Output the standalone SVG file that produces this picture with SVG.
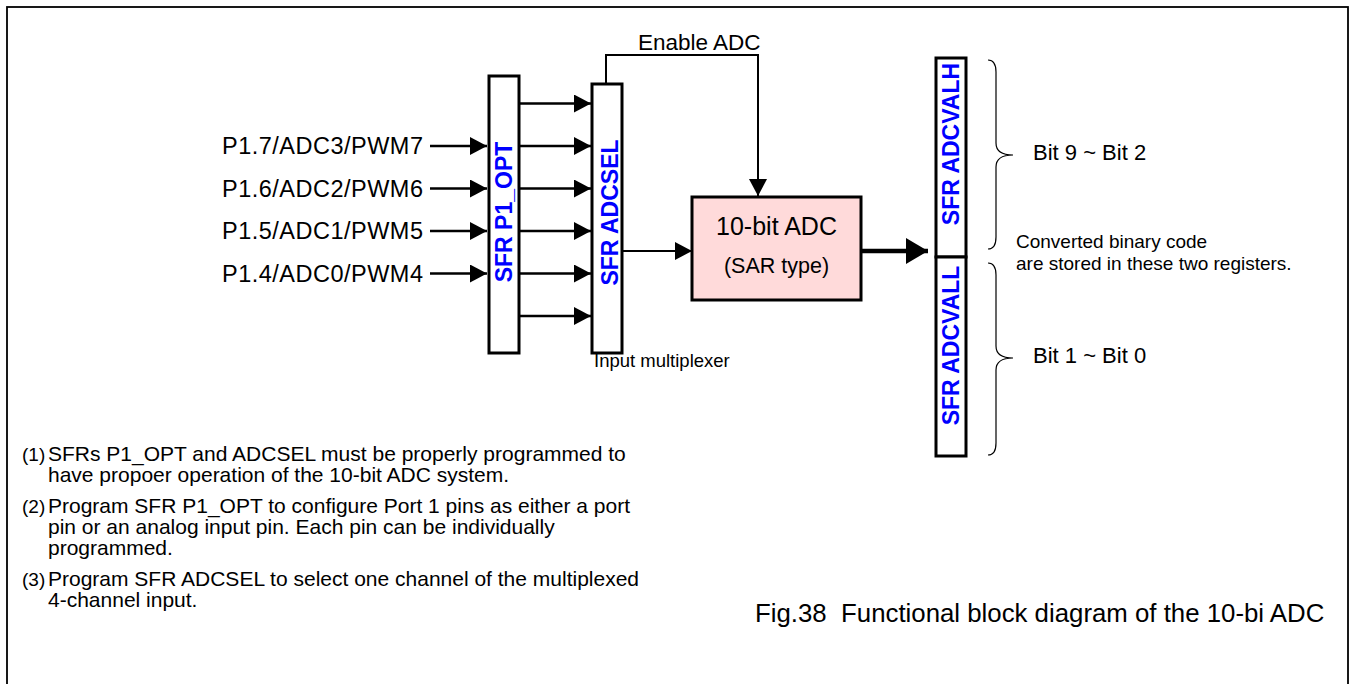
<svg xmlns="http://www.w3.org/2000/svg" width="1352" height="684" viewBox="0 0 1352 684">
<style>
  text { font-family: "Liberation Sans", Arial, sans-serif; fill: #000; }
  .box { fill: #fff; stroke: #000; stroke-width: 3; }
  .sfr { font-weight: bold; font-size: 23px; fill: #0000FF; text-anchor: middle; }
  .lbl { font-size: 23.5px; }
  .wire { fill: none; stroke: #000; stroke-width: 2.5; }
  .thin { fill: none; stroke: #000; stroke-width: 2; }
  .brace { fill: none; stroke: #000; stroke-width: 1.2; }
  .note { font-size: 21px; }
  .num { font-size: 19px; }
</style>
<defs>
  <marker id="ah" markerUnits="userSpaceOnUse" markerWidth="17" markerHeight="18" refX="17" refY="9" orient="auto">
    <path d="M0,0 L17,9 L0,18 z" fill="#000"/>
  </marker>
  <marker id="ahBig" markerUnits="userSpaceOnUse" markerWidth="22" markerHeight="26" refX="22" refY="13" orient="auto">
    <path d="M0,0 L22,13 L0,26 z" fill="#000"/>
  </marker>
</defs>

<rect x="7" y="7" width="1341" height="720" fill="none" stroke="#000" stroke-width="1.8"/>

<g id="connectors">
  <line class="wire" x1="430" y1="146" x2="487" y2="146" marker-end="url(#ah)"/>
  <line class="wire" x1="430" y1="188.5" x2="487" y2="188.5" marker-end="url(#ah)"/>
  <line class="wire" x1="430" y1="231" x2="487" y2="231" marker-end="url(#ah)"/>
  <line class="wire" x1="430" y1="273.5" x2="487" y2="273.5" marker-end="url(#ah)"/>

  <line class="wire" x1="520" y1="103.5" x2="591" y2="103.5" marker-end="url(#ah)"/>
  <line class="wire" x1="520" y1="146" x2="591" y2="146" marker-end="url(#ah)"/>
  <line class="wire" x1="520" y1="188.5" x2="591" y2="188.5" marker-end="url(#ah)"/>
  <line class="wire" x1="520" y1="231" x2="591" y2="231" marker-end="url(#ah)"/>
  <line class="wire" x1="520" y1="273.5" x2="591" y2="273.5" marker-end="url(#ah)"/>
  <line class="wire" x1="520" y1="316" x2="591" y2="316" marker-end="url(#ah)"/>

  <path class="thin" d="M606,84 V55 H758 V196" marker-end="url(#ah)"/>
  <line class="thin" x1="623" y1="251" x2="692" y2="251" marker-end="url(#ah)"/>
  <line fill="none" stroke="#000" stroke-width="4.5" x1="862" y1="251" x2="928" y2="251" marker-end="url(#ahBig)"/>
</g>

<g id="inputs">
  <text class="lbl" x="222" y="154" textLength="201">P1.7/ADC3/PWM7</text>
  <text class="lbl" x="222" y="196.5" textLength="201">P1.6/ADC2/PWM6</text>
  <text class="lbl" x="222" y="239" textLength="201">P1.5/ADC1/PWM5</text>
  <text class="lbl" x="222" y="281.5" textLength="201">P1.4/ADC0/PWM4</text>
</g>

<g id="p1opt">
  <rect class="box" x="489" y="76" width="30" height="277"/>
  <text class="sfr" transform="translate(512,212) rotate(-90)">SFR P1_OPT</text>
</g>

<g id="adcsel">
  <rect class="box" x="592" y="84" width="30" height="269"/>
  <text class="sfr" transform="translate(617.5,212.5) rotate(-90)">SFR ADCSEL</text>
  <text x="594" y="367" font-size="18.5">Input multiplexer</text>
</g>

<g id="enable">
  <text x="638" y="50" font-size="22.5">Enable ADC</text>
</g>

<g id="adc">
  <rect x="692" y="197" width="169" height="103" fill="#FFDADA" stroke="#000" stroke-width="3"/>
  <text x="776.5" y="235" font-size="25" text-anchor="middle">10-bit ADC</text>
  <text x="776.5" y="273" font-size="21.5" text-anchor="middle">(SAR type)</text>
</g>

<g id="adcvalh">
  <rect class="box" x="936" y="58" width="30" height="199"/>
  <text class="sfr" transform="translate(958.5,144) rotate(-90)">SFR ADCVALH</text>
</g>

<g id="adcvall">
  <rect class="box" x="936" y="257" width="30" height="199"/>
  <text class="sfr" transform="translate(958.5,345.5) rotate(-90)">SFR ADCVALL</text>
</g>

<g id="bits">
  <path class="brace" d="M988,60 Q996,60 996,72 V143 Q996,155 1013,155 Q996,155 996,167 V237 Q996,249 988,249"/>
  <path class="brace" d="M988,263 Q996,263 996,275 V346 Q996,358 1013,358 Q996,358 996,370 V443 Q996,455 988,455"/>
  <text x="1033" y="160" font-size="22">Bit 9 ~ Bit 2</text>
  <text x="1033" y="363" font-size="22">Bit 1 ~ Bit 0</text>
  <text x="1016" y="248" font-size="19">Converted binary code</text>
  <text x="1016" y="270" font-size="19">are stored in these two registers.</text>
</g>

<g id="notes">
  <text class="num" x="22" y="461">(1)</text>
  <text class="note" x="48" y="461">SFRs P1_OPT and ADCSEL must be properly programmed to</text>
  <text class="note" x="48" y="482">have propoer operation of the 10-bit ADC system.</text>
  <text class="num" x="22" y="513">(2)</text>
  <text class="note" x="48" y="513">Program SFR P1_OPT to configure Port 1 pins as either a port</text>
  <text class="note" x="48" y="534">pin or an analog input pin. Each pin can be individually</text>
  <text class="note" x="48" y="555">programmed.</text>
  <text class="num" x="22" y="586">(3)</text>
  <text class="note" x="48" y="586">Program SFR ADCSEL to select one channel of the multiplexed</text>
  <text class="note" x="48" y="607">4-channel input.</text>
</g>

<g id="caption">
  <text x="755" y="622" font-size="25.8">Fig.38&#160; Functional block diagram of the 10-bi ADC</text>
</g>
</svg>
